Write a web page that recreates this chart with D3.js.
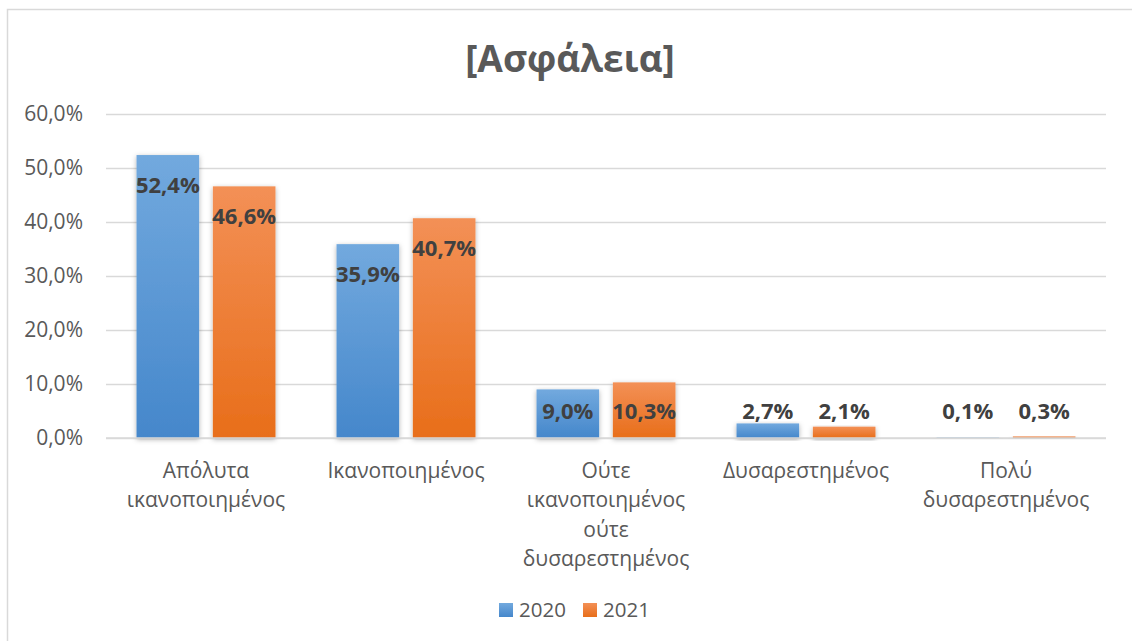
<!DOCTYPE html>
<html>
<head>
<meta charset="utf-8">
<script src="https://cdn.jsdelivr.net/npm/d3@7"></script>
<style>
  html, body { margin: 0; padding: 0; background: #fff; }
  svg { display: block; font-family: "Open Sans", "Noto Sans", sans-serif; }
</style>
</head>
<body>
<svg id="chart" width="1132" height="641"></svg>
<script>
const title = "[Ασφάλεια]";
const categories = ["Απόλυτα ικανοποιημένος", "Ικανοποιημένος", "Ούτε ικανοποιημένος ούτε δυσαρεστημένος", "Δυσαρεστημένος", "Πολύ δυσαρεστημένος"];
const seriesNames = ["2020", "2021"];
const values2020 = [52.4, 35.9, 9.0, 2.7, 0.1];
const values2021 = [46.6, 40.7, 10.3, 2.1, 0.3];
const yTicks = [0, 10, 20, 30, 40, 50, 60];

const seriesValues = [values2020, values2021];
const data = categories.map((c, i) => ({ cat: c, vals: seriesNames.map((s, j) => ({ s, v: seriesValues[j][i] })) }));

const svg = d3.select("#chart");
const plot = { left: 106, right: 1106, top: 114, bottom: 438 };

const defs = svg.append("defs");
const grads = {
  "2020": ["#72a9de", "#4587cb"],
  "2021": ["#f39056", "#e86e1a"]
};
Object.entries(grads).forEach(([k, [c1, c2]]) => {
  const g = defs.append("linearGradient").attr("id", "g" + k).attr("x1", 0).attr("y1", 0).attr("x2", 0).attr("y2", 1);
  g.append("stop").attr("offset", "0%").attr("stop-color", c1);
  g.append("stop").attr("offset", "100%").attr("stop-color", c2);
});
const f = defs.append("filter").attr("id", "shadow").attr("x", "-20%").attr("y", "-10%").attr("width", "140%").attr("height", "130%");
f.append("feDropShadow").attr("dx", 0).attr("dy", 1.5).attr("stdDeviation", 2.5).attr("flood-color", "#000").attr("flood-opacity", 0.3);

// border
svg.append("rect").attr("x", 7.5).attr("y", 9.5).attr("width", 1140).attr("height", 650)
  .attr("fill", "#fff").attr("stroke", "#d9d9d9").attr("stroke-width", 1.5);

// title
svg.append("text").attr("x", 570).attr("y", 72).attr("text-anchor", "middle")
  .attr("font-size", 37).attr("font-weight", 700).attr("fill", "#595959").text(title);

const y = d3.scaleLinear().domain([0, 60]).range([plot.bottom, plot.top]);
const x0 = d3.scaleBand().domain(categories).range([plot.left, plot.right]).paddingInner(0).paddingOuter(0);
const x1 = d3.scaleBand().domain(seriesNames).range([0, x0.bandwidth()]).paddingInner(0.18).paddingOuter(0.4);

// gridlines + y labels
const yAxis = d3.axisLeft(y).tickValues(yTicks).tickSize(-(plot.right - plot.left)).tickPadding(23)
  .tickFormat(d => d.toFixed(1).replace(".", ",") + "%");
const ya = svg.append("g").attr("transform", `translate(${plot.left},0)`).call(yAxis);
ya.select(".domain").remove();
ya.selectAll(".tick line").attr("stroke", "#d9d9d9").attr("stroke-width", 1.5);
ya.selectAll(".tick text").attr("font-size", 21).attr("fill", "#595959").attr("font-family", "Open Sans, sans-serif");

// bars
const groups = svg.append("g").selectAll("g").data(data).join("g")
  .attr("transform", d => `translate(${x0(d.cat)},0)`);
groups.selectAll("rect").data(d => d.vals).join("rect")
  .attr("x", d => x1(d.s)).attr("width", x1.bandwidth())
  .attr("y", d => y(d.v)).attr("height", d => y(0) - y(d.v))
  .attr("fill", d => `url(#g${d.s})`).attr("filter", "url(#shadow)");

// x axis baseline
svg.append("line").attr("x1", plot.left).attr("x2", plot.right).attr("y1", y(0)).attr("y2", y(0))
  .attr("stroke", "#d9d9d9").attr("stroke-width", 1.5);

// data labels
groups.selectAll("text.lbl").data(d => d.vals).join("text").attr("class", "lbl")
  .attr("x", d => x1(d.s) + x1.bandwidth() / 2)
  .attr("y", d => Math.min(y(d.v) + 30, y(0) - 27))
  .attr("dy", "0.36em").attr("text-anchor", "middle")
  .attr("font-size", 22).attr("font-weight", 700).attr("fill", "#404040")
  .text(d => d.v.toFixed(1).replace(".", ",") + "%");

// category labels
const xAxis = d3.axisBottom(x0).tickSize(0).tickPadding(0);
const xa = svg.append("g").attr("transform", `translate(0,${plot.bottom})`).call(xAxis);
xa.select(".domain").remove();
xa.selectAll(".tick text").attr("font-size", 21).attr("fill", "#595959").attr("font-family", "Open Sans, sans-serif")
  .each(function (d) {
    const t = d3.select(this);
    const words = d.split(" ");
    t.text(null);
    const lines = [];
    let cur = [];
    const probe = t.append("tspan");
    words.forEach(w => {
      const test = cur.concat([w]).join(" ");
      probe.text(test);
      if (cur.length && probe.node().getComputedTextLength() > 180) {
        lines.push(cur.join(" "));
        cur = [w];
      } else cur.push(w);
    });
    lines.push(cur.join(" "));
    probe.remove();
    lines.forEach((l, i) => {
      t.append("tspan").attr("x", 0).attr("y", 32 + i * 29.5).attr("dy", "0.36em").text(l);
    });
  });

// legend
const legend = svg.append("g");
const legX = [499, 583];
seriesNames.forEach((s, i) => {
  legend.append("rect").attr("x", legX[i]).attr("y", 603).attr("width", 14).attr("height", 14).attr("fill", `url(#g${s})`);
  legend.append("text").attr("x", legX[i] + 20).attr("y", 610).attr("dy", "0.36em")
    .attr("font-size", 20.5).attr("fill", "#595959").text(s);
});
</script>
</body>
</html>
